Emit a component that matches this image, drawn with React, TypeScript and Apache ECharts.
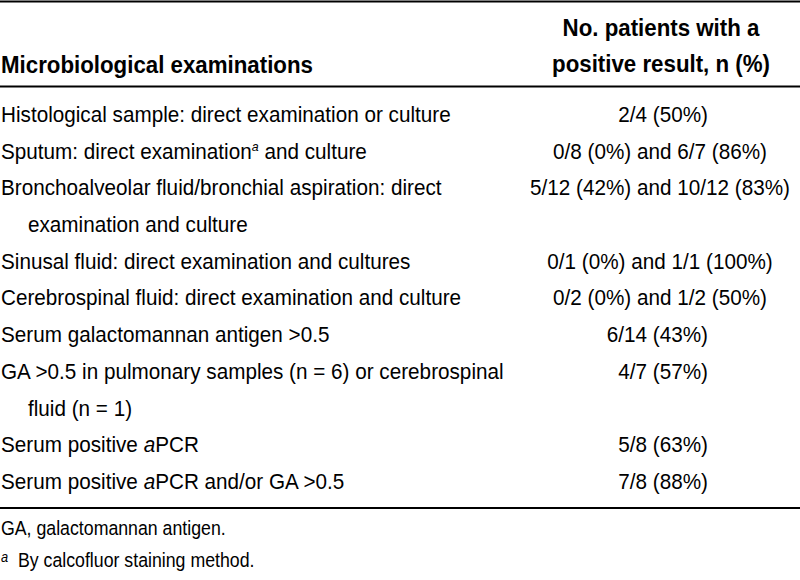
import React, { useEffect, useRef } from "react";
import * as echarts from "echarts";

const headerLeft = "Microbiological examinations";
const headerRight = ["No. patients with a", "positive result, n (%)"];

const rowLabels: string[][] = [
  ["Histological sample: direct examination or culture"],
  ["Sputum: direct examination{sup|a} and culture"],
  ["Bronchoalveolar fluid/bronchial aspiration: direct", "examination and culture"],
  ["Sinusal fluid: direct examination and cultures"],
  ["Cerebrospinal fluid: direct examination and culture"],
  ["Serum galactomannan antigen >0.5"],
  ["GA >0.5 in pulmonary samples (n = 6) or cerebrospinal", "fluid (n = 1)"],
  ["Serum positive {it|a}PCR"],
  ["Serum positive {it|a}PCR and/or GA >0.5"],
];

const rowValues: string[] = [
  "2/4 (50%)",
  "0/8 (0%) and 6/7 (86%)",
  "5/12 (42%) and 10/12 (83%)",
  "0/1 (0%) and 1/1 (100%)",
  "0/2 (0%) and 1/2 (50%)",
  "6/14 (43%)",
  "4/7 (57%)",
  "5/8 (63%)",
  "7/8 (88%)",
];

const footnotes: string[] = [
  "GA, galactomannan antigen.",
  "{sup|a}  By calcofluor staining method.",
];

const FONT = "'Liberation Sans', Arial, Helvetica, sans-serif";

export default function App() {
  const ref = useRef<HTMLDivElement>(null);
  useEffect(() => {
    if (!ref.current) return;
    const chart = echarts.init(ref.current, null, { renderer: "svg" });
    const fs = 22.5;
    const ink = "#000";
    const els: any[] = [];
    const txt = (text: string, x: number, baseline: number, opts: any = {}) => {
      const size = opts.fontSize || fs;
      els.push({
        type: "text",
        x,
        y: baseline - 0.35 * size,
        scaleX: opts.scaleX || 0.92,
        style: {
          text,
          fontFamily: FONT,
          fontSize: size,
          fontWeight: opts.fontWeight || "normal",
          fill: ink,
          align: opts.align || "left",
          verticalAlign: "middle",
          rich: {
            sup: { fontSize: size * (opts.supScale || 0.6), fontStyle: "italic", fontFamily: FONT, verticalAlign: "top", fill: ink },
            it: { fontSize: size, fontStyle: "italic", fontFamily: FONT, fill: ink },
          },
        },
      });
    };
    const hline = (y: number, w: number) => {
      els.push({
        type: "line",
        shape: { x1: 0, y1: y, x2: 800, y2: y },
        style: { stroke: ink, lineWidth: w },
      });
    };

    hline(1.5, 2);
    const hb = { fontWeight: "bold", fontSize: 24.5, scaleX: 0.91 };
    txt(headerLeft, 1, 73, hb);
    txt(headerRight[0], 661, 36, { ...hb, align: "center" });
    txt(headerRight[1], 661, 72, { ...hb, align: "center" });
    hline(86.5, 2);

    const step = 36.7;
    let line = 0;
    rowLabels.forEach((lines, i) => {
      const b0 = 122 + step * line;
      lines.forEach((l, j) => {
        txt(l, j === 0 ? 1 : 28, b0 + step * j);
      });
      const v = rowValues[i];
      if (v.indexOf(" and ") >= 0) txt(v, 660, b0, { align: "center" });
      else txt(v, 708, b0, { align: "right" });
      line += lines.length;
    });

    hline(508, 2);
    txt(footnotes[0], 1, 535, { fontSize: 19.5, scaleX: 0.91 });
    txt(footnotes[1], 1, 567, { fontSize: 19.5, scaleX: 0.91, supScale: 0.72 });

    chart.setOption({
      animation: false,
      backgroundColor: "#ffffff",
      graphic: { elements: els },
    });
    return () => chart.dispose();
  }, []);
  return (
    <div
      ref={ref}
      style={{ position: "absolute", left: 0, top: 0, width: 800, height: 580, background: "#fff" }}
    />
  );
}
